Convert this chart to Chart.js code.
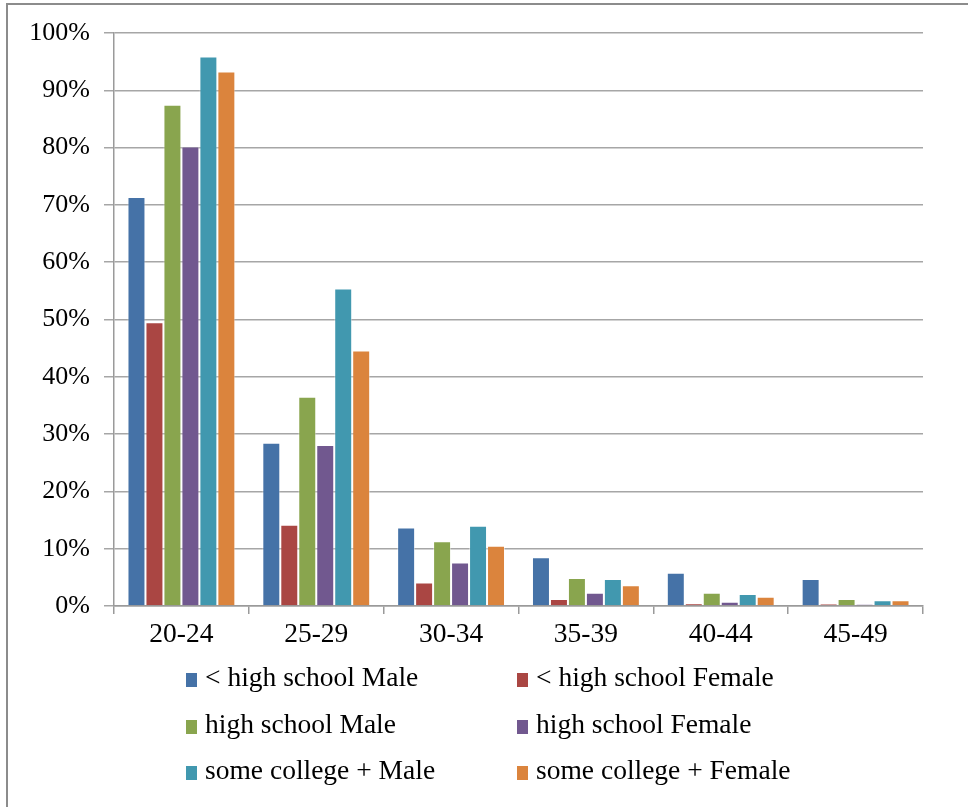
<!DOCTYPE html>
<html>
<head>
<meta charset="utf-8">
<script src="https://cdn.jsdelivr.net/npm/chart.js@4/dist/chart.umd.min.js"></script>
<style>
  html, body { margin: 0; padding: 0; background: #fff; }
  #wrap { position: relative; width: 968px; height: 807px; overflow: hidden; }
  #frame { position: absolute; left: 6px; top: 3px; right: -10px; bottom: -10px;
           border-left: 2px solid #8c8c8c; border-top: 2px solid #8c8c8c; pointer-events: none; }
  canvas { position: absolute; left: 0; top: 0; }
  #legend { position: absolute; left: 0; top: 654px; width: 968px;
            font-family: "Liberation Serif", "Times New Roman", serif; font-size: 27.5px; color: #000; }
  .item { position: absolute; height: 46px; line-height: 46px; white-space: nowrap; }
  .box { display: inline-block; width: 11px; height: 14px; margin-right: 8px; vertical-align: -1px; }
</style>
</head>
<body>
<div id="wrap">
  <canvas id="c" width="968" height="807"></canvas>
  <div id="frame"></div>
  <div id="legend"></div>
</div>
<script>
// Age groups along the x axis
const ageGroups = ["20-24", "25-29", "30-34", "35-39", "40-44", "45-49"];

// Share (%) per age group, by education level and sex
const lessHsMale     = [71.4, 28.5, 13.7, 8.5, 5.8, 4.7];
const lessHsFemale   = [49.5, 14.2, 4.1, 1.2, 0.5, 0.35];
const hsMale         = [87.5, 36.5, 11.3, 4.9, 2.3, 1.2];
const hsFemale       = [80.2, 28.1, 7.6, 2.3, 0.75, 0.3];
const collegeMale    = [95.9, 55.4, 14.0, 4.7, 2.1, 1.0];
const collegeFemale  = [93.3, 44.6, 10.5, 3.6, 1.6, 1.0];

const seriesNames = ["< high school Male", "< high school Female", "high school Male",
                     "high school Female", "some college + Male", "some college + Female"];
const seriesValues = [lessHsMale, lessHsFemale, hsMale, hsFemale, collegeMale, collegeFemale];
const seriesColors = ["#4572A7", "#AA4643", "#89A54E", "#71588F", "#4198AF", "#DB843D"];

// Y axis tick values (percent)
const yTicks = [0, 10, 20, 30, 40, 50, 60, 70, 80, 90, 100];

const datasets = seriesNames.map((name, i) => ({
  label: name,
  data: seriesValues[i],
  backgroundColor: seriesColors[i],
  borderColor: "rgba(255,255,255,0.45)",
  borderWidth: 1,
  categoryPercentage: 0.8,
  barPercentage: 1.0
}));

const serif = "'Liberation Serif', 'Times New Roman', serif";

new Chart(document.getElementById("c"), {
  type: "bar",
  data: { labels: ageGroups, datasets },
  options: {
    responsive: false,
    animation: false,
    layout: { padding: { left: 0, right: 45, top: 33, bottom: 0 } },
    plugins: { legend: { display: false }, tooltip: { enabled: false } },
    scales: {
      x: {
        grid: { display: true, drawOnChartArea: false, drawTicks: true, tickLength: 8,
                color: "#9a9a9a", lineWidth: 1.5, offset: true },
        border: { display: true, color: "#9a9a9a", width: 1.5 },
        ticks: { color: "#000", font: { family: serif, size: 27.5 }, padding: 4, maxRotation: 0 },
        afterFit: s => { s.height = 807 - 606; }
      },
      y: {
        min: 0, max: 100,
        afterBuildTicks: s => { s.ticks = yTicks.map(v => ({ value: v })); },
        grid: { color: "#a6a6a6", lineWidth: 1.5, tickLength: 10, drawTicks: true },
        border: { display: true, color: "#9a9a9a", width: 1.5 },
        ticks: { color: "#000", font: { family: serif, size: 26 }, padding: 14,
                 callback: v => v + "%" },
        afterFit: s => { s.width = 114; }
      }
    }
  }
});

// Two-column legend built from the series definitions
const legend = document.getElementById("legend");
const colX = [186, 517];
seriesNames.forEach((name, i) => {
  const el = document.createElement("div");
  el.className = "item";
  el.style.left = colX[i % 2] + "px";
  el.style.top = (Math.floor(i / 2) * 46.5) + "px";
  const box = document.createElement("span");
  box.className = "box";
  box.style.background = seriesColors[i];
  el.appendChild(box);
  el.appendChild(document.createTextNode(name));
  legend.appendChild(el);
});
</script>
</body>
</html>
